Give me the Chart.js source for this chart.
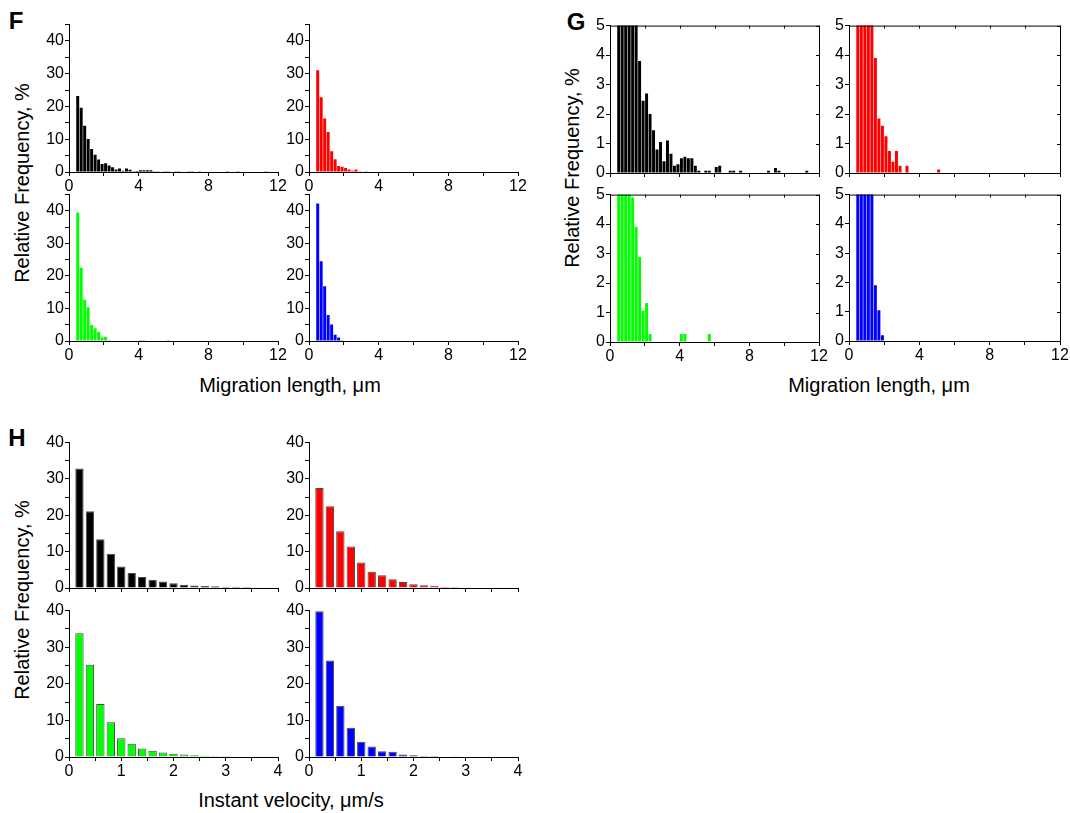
<!DOCTYPE html>
<html>
<head>
<meta charset="utf-8">
<script src="https://cdn.jsdelivr.net/npm/chart.js@4.4.1/dist/chart.umd.min.js"></script>
<style>
  body {
    margin: 0;
    background: #fff;
    width: 1070px;
    height: 813px;
    overflow: hidden;
    position: relative;
    font-family: "Liberation Sans", Arial, sans-serif;
  }
  canvas { position: absolute; }
  .lbl {
    position: absolute;
    color: #000;
    white-space: nowrap;
    line-height: 1;
  }
  .panel { font-weight: bold; font-size: 24px; transform: translate(-50%, -50%); }
  .ytitle { font-size: 20px; transform: translate(-50%, -50%) rotate(-90deg); }
  .xtitle { font-size: 20px; transform: translate(-50%, -50%); }
</style>
</head>
<body>
<div class="lbl panel" style="left:16px;top:21px">F</div>
<div class="lbl panel" style="left:576px;top:22px">G</div>
<div class="lbl panel" style="left:17px;top:438px">H</div>

<div class="lbl ytitle" style="left:22px;top:183px">Relative Frequency, %</div>
<div class="lbl ytitle" style="left:572px;top:168px">Relative Frequency, %</div>
<div class="lbl ytitle" style="left:22px;top:600px">Relative Frequency, %</div>

<div class="lbl xtitle" style="left:290px;top:385px">Migration length, μm</div>
<div class="lbl xtitle" style="left:879px;top:385px">Migration length, μm</div>
<div class="lbl xtitle" style="left:291px;top:800px">Instant velocity, μm/s</div>

<script>
// Histogram bins (bin centres)
const lengthBins = [0.5, 0.7, 0.9, 1.1, 1.3, 1.5, 1.7, 1.9, 2.1, 2.3, 2.5, 2.7, 2.9, 3.1, 3.3,
  3.5, 3.7, 3.9, 4.1, 4.3, 4.5, 4.7, 4.9, 5.1, 5.3, 5.5, 5.7, 5.9, 6.1, 6.3, 6.5, 6.7, 6.9,
  7.1, 7.3, 7.5, 7.7, 7.9, 8.1, 8.3, 8.5, 8.7, 8.9, 9.1, 9.3, 9.5, 9.7, 9.9, 10.1, 10.3,
  10.5, 10.7, 10.9, 11.1, 11.3];
const velocityBins = [0.2, 0.4, 0.6, 0.8, 1.0, 1.2, 1.4, 1.6, 1.8, 2.0, 2.2, 2.4, 2.6, 2.8,
  3.0, 3.2, 3.4, 3.6, 3.8];

// Migration length, relative frequency %
const lengthBlack = [23.2, 19.6, 14.1, 10.1, 7.0, 5.3, 3.8, 2.45, 2.7, 2.0, 1.45, 0.8, 1.05,
  0.4, 1.1, 0.65, 0.25, 0.3, 0.5, 0.55, 0.5, 0.5, 0.25, 0.08, 0, 0.08, 0.08, 0, 0.2, 0.25,
  0, 0, 0.08, 0.08, 0, 0.08, 0, 0, 0, 0, 0, 0, 0, 0.08, 0, 0.17, 0.08, 0, 0, 0, 0, 0, 0, 0,
  0.08];
const lengthRed = [31.1, 22.8, 16.3, 12.2, 6.3, 3.9, 1.85, 1.6, 1.25, 0.75, 0.38, 0.75, 0.25,
  0, 0.25, 0, 0, 0, 0, 0, 0, 0, 0, 0.12];
const lengthGreen = [39.5, 22.5, 12.7, 10.4, 4.9, 3.9, 2.88, 1.06, 1.32, 0.27, 0, 0, 0, 0, 0,
  0, 0, 0, 0.27, 0.27, 0, 0, 0, 0, 0, 0, 0.27];
const lengthBlue = [42.3, 24.5, 16.8, 8.0, 5.1, 1.9, 1.05, 0.2];

// Instant velocity, relative frequency %
const velocityBlack = [32.9, 21.1, 13.4, 9.45, 5.9, 4.1, 3.0, 2.3, 1.8, 1.3, 0.9, 0.7, 0.55,
  0.5, 0.35, 0.35, 0.3, 0.2, 0.2];
const velocityRed = [27.5, 22.5, 15.6, 11.4, 7.0, 4.5, 3.5, 2.4, 1.65, 1.0, 0.75, 0.65, 0.35,
  0.3, 0.2, 0.15, 0.15, 0.1, 0.1];
const velocityGreen = [33.8, 25.2, 14.5, 9.5, 5.15, 3.6, 2.35, 1.7, 1.2, 0.9, 0.7, 0.5, 0.35,
  0.25, 0.25, 0.15, 0.15, 0.1, 0.1];
const velocityBlue = [39.8, 26.4, 14.0, 8.0, 4.15, 2.9, 1.55, 1.45, 0.7, 0.45, 0.25, 0.25,
  0.15, 0.05, 0, 0, 0, 0, 0];

// Layout constants for every small panel
const Y_AXIS_W = 42;
const X_AXIS_H = 24;
const PAD_T = 10;
const PAD_R = 14;
const TICK_FONT = { family: "'Liberation Sans', Arial, sans-serif", size: 16 };

function isMultiple(v, every) {
  const r = v / every;
  return Math.abs(r - Math.round(r)) < 1e-6;
}

// Draws a closed frame around the plot area (used in panel G)
const framePlugin = {
  id: "frame",
  afterDatasetsDraw(chart, args, opts) {
    if (!opts.box) return;
    const a = chart.chartArea;
    const ctx = chart.ctx;
    ctx.save();
    ctx.strokeStyle = "#000";
    ctx.lineWidth = 1;
    ctx.strokeRect(a.left + 0.5, a.top + 0.5, a.right - a.left, a.bottom - a.top);
    // small inward ticks on top and right edges
    ctx.beginPath();
    chart.scales.x.ticks.forEach((t) => {
      const px = Math.round(chart.scales.x.getPixelForValue(t.value)) + 0.5;
      ctx.moveTo(px, a.top);
      ctx.lineTo(px, a.top + 3);
    });
    chart.scales.y.ticks.forEach((t) => {
      const py = Math.round(chart.scales.y.getPixelForValue(t.value)) + 0.5;
      ctx.moveTo(a.right, py);
      ctx.lineTo(a.right - 3, py);
    });
    ctx.stroke();
    ctx.restore();
  },
};

// Create one small histogram panel
function createHistogram(area, bins, values, color, axis) {
  const canvas = document.createElement("canvas");
  canvas.width = area.right - area.left + Y_AXIS_W + PAD_R;
  canvas.height = area.bottom - area.top + PAD_T + X_AXIS_H;
  canvas.style.left = area.left - Y_AXIS_W + "px";
  canvas.style.top = area.top - PAD_T + "px";
  document.body.appendChild(canvas);

  return new Chart(canvas, {
    type: "bar",
    data: {
      datasets: [
        {
          data: values.map((y, i) => ({ x: bins[i], y: y })),
          backgroundColor: color,
          borderColor: axis.border ? "#4a4a4a" : color,
          borderWidth: axis.border ? 1 : 0,
          barPercentage: axis.barPct,
          categoryPercentage: 1,
          clip: 0,
        },
      ],
    },
    options: {
      responsive: false,
      animation: false,
      events: [],
      layout: { padding: { top: PAD_T, right: PAD_R, left: 0, bottom: 0 } },
      plugins: {
        legend: { display: false },
        tooltip: { enabled: false },
        frame: { box: axis.box },
      },
      scales: {
        x: {
          type: "linear",
          min: 0,
          max: axis.xMax,
          offset: false,
          grid: { offset: false, drawOnChartArea: false, tickLength: 4, color: "#000" },
          border: { color: "#000", width: 1 },
          ticks: {
            stepSize: axis.xStep,
            autoSkip: false,
            maxRotation: 0,
            padding: 1,
            color: "#000",
            font: TICK_FONT,
            callback: (v) => (axis.xLabels && isMultiple(v, axis.xLabelEvery) ? v : ""),
          },
          afterFit: (s) => {
            s.height = X_AXIS_H;
          },
        },
        y: {
          min: 0,
          max: axis.yMax,
          grid: { drawOnChartArea: false, tickLength: 4, color: "#000" },
          border: { color: "#000", width: 1 },
          ticks: {
            stepSize: axis.yStep,
            autoSkip: false,
            padding: 1,
            color: "#000",
            font: TICK_FONT,
            callback: (v) => (isMultiple(v, axis.yLabelEvery) ? v : ""),
          },
          afterFit: (s) => {
            s.width = Y_AXIS_W;
          },
        },
      },
    },
    plugins: [framePlugin],
  });
}

// Axis setups for the three figure parts
const axisF = { xMax: 12, xStep: 2, xLabelEvery: 4, xLabels: true, yMax: 45, yStep: 5, yLabelEvery: 10, barPct: 0.85 };
const axisGTop = { xMax: 12, xStep: 2, xLabelEvery: 4, xLabels: false, yMax: 5, yStep: 1, yLabelEvery: 1, barPct: 0.85, box: true };
const axisGBottom = Object.assign({}, axisGTop, { xLabels: true });
const axisHTop = { xMax: 4, xStep: 0.5, xLabelEvery: 1, xLabels: false, yMax: 40, yStep: 5, yLabelEvery: 10, barPct: 0.8, border: true };
const axisHBottom = Object.assign({}, axisHTop, { xLabels: true });

// F: migration length, full scale
createHistogram({ left: 69, right: 278, top: 24, bottom: 172 }, lengthBins, lengthBlack, "#000000", axisF);
createHistogram({ left: 309, right: 518, top: 24, bottom: 172 }, lengthBins, lengthRed, "#ff0000", axisF);
createHistogram({ left: 69, right: 278, top: 194, bottom: 341 }, lengthBins, lengthGreen, "#00ff00", axisF);
createHistogram({ left: 309, right: 518, top: 194, bottom: 341 }, lengthBins, lengthBlue, "#0000ff", axisF);

// G: same data, zoomed to 0-5 %
createHistogram({ left: 610, right: 819, top: 25, bottom: 173 }, lengthBins, lengthBlack, "#000000", axisGTop);
createHistogram({ left: 849, right: 1060, top: 25, bottom: 173 }, lengthBins, lengthRed, "#ff0000", axisGTop);
createHistogram({ left: 610, right: 819, top: 194, bottom: 342 }, lengthBins, lengthGreen, "#00ff00", axisGBottom);
createHistogram({ left: 849, right: 1060, top: 194, bottom: 341 }, lengthBins, lengthBlue, "#0000ff", axisGBottom);

// H: instant velocity
createHistogram({ left: 69, right: 278, top: 442, bottom: 588 }, velocityBins, velocityBlack, "#000000", axisHTop);
createHistogram({ left: 309, right: 518, top: 442, bottom: 588 }, velocityBins, velocityRed, "#ff0000", axisHTop);
createHistogram({ left: 69, right: 278, top: 610, bottom: 757 }, velocityBins, velocityGreen, "#00ff00", axisHBottom);
createHistogram({ left: 309, right: 518, top: 610, bottom: 757 }, velocityBins, velocityBlue, "#0000ff", axisHBottom);
</script>
</body>
</html>
